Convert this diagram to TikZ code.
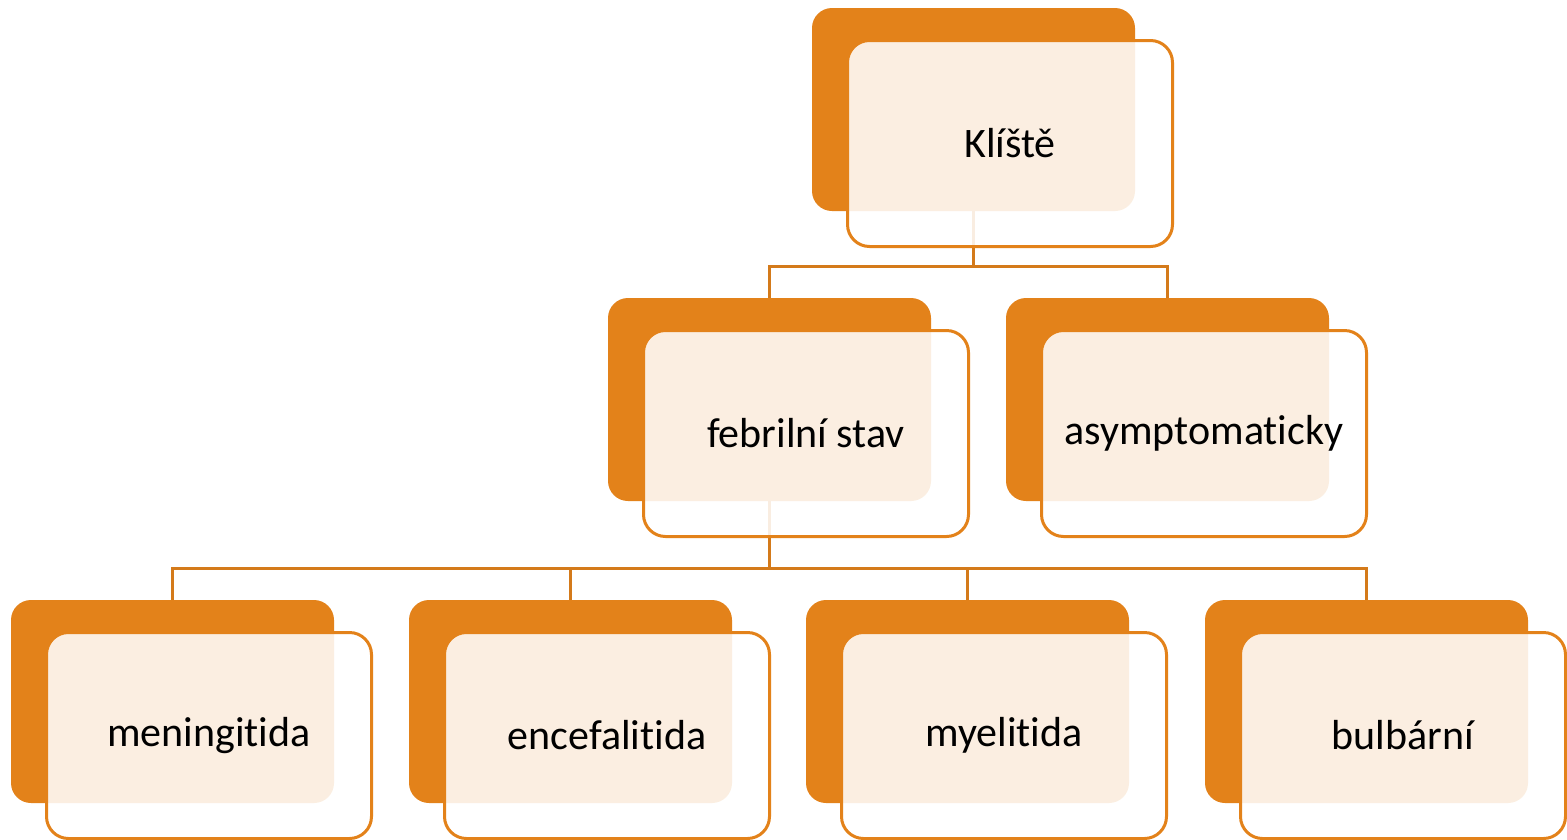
\documentclass[tikz,border=0pt]{standalone}
\usepackage{fontspec}
\setmainfont{Carlito}[Ligatures={NoCommon,NoContextual}]
\usetikzlibrary{calc}
\definecolor{org}{HTML}{E3821A}
\definecolor{conn}{HTML}{D47A1A}
\begin{document}
\begin{tikzpicture}[x=1pt,y=-1pt,
  backbox/.style={rectangle,rounded corners=20pt,fill=org,draw=none,minimum width=323pt,minimum height=203pt,inner sep=0pt},
  frontbox/.style={rectangle,rounded corners=22pt,fill=white,fill opacity=0.87,text opacity=1,draw=org,draw opacity=1,line width=3pt,minimum width=325pt,minimum height=206pt,inner sep=0pt,font=\fontsize{42pt}{50pt}\selectfont},
  connline/.style={draw=conn,line width=3pt}]
\useasboundingbox (0,0) rectangle (1567,839);
% back boxes
\node[backbox] (b0) at (973.5,109.5) {};
\node[backbox] (b1) at (769.5,399.5) {};
\node[backbox] (b2) at (1167.5,399.5) {};
\node[backbox] (c1) at (172.5,701.5) {};
\node[backbox] (c2) at (570.5,701.5) {};
\node[backbox] (c3) at (967.5,701.5) {};
\node[backbox] (c4) at (1366.5,701.5) {};
% connectors
\draw[connline] (b0.south) -- ++(0,55) coordinate (j0);
\draw[connline] (j0) -| (b1.north);
\draw[connline] (j0) -| (b2.north);
\draw[connline] (b1.south) -- ++(0,67) coordinate (j1);
\draw[connline] (j1) -| (c1.north);
\draw[connline] (j1) -| (c2.north);
\draw[connline] (j1) -| (c3.north);
\draw[connline] (j1) -| (c4.north);
% front boxes
\node[frontbox] (f0) at ($(b0)+(36.5,34)$) {Klíště};
\node[frontbox] (f1) at ($(b1)+(36.5,34)$) {febrilní stav};
\node[frontbox] (f2) at ($(b2)+(36.5,34)$) {asymptomaticky};
\node[frontbox] (g1) at ($(c1)+(36.5,34)$) {meningitida};
\node[frontbox] (g2) at ($(c2)+(36.5,34)$) {encefalitida};
\node[frontbox] (g3) at ($(c3)+(36.5,34)$) {myelitida};
\node[frontbox] (g4) at ($(c4)+(36.5,34)$) {bulbární};
\end{tikzpicture}
\end{document}
